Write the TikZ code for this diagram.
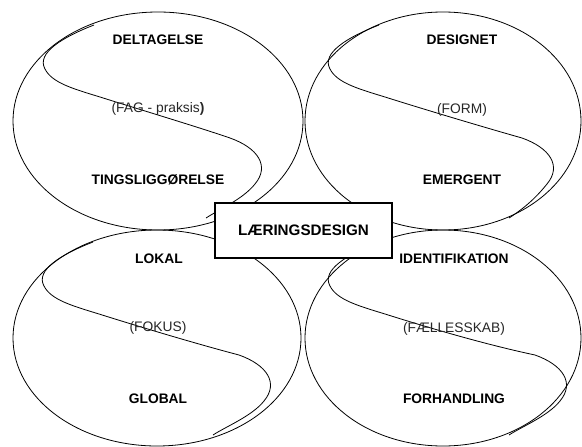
\documentclass[tikz,border=0pt]{standalone}
\usepackage{fontspec}
\setmainfont{Liberation Sans}
\tikzset{
  oval/.style={draw=black, line width=0.8pt},
  sline/.style={draw=black, line width=0.8pt},
  lab/.style={font=\fontsize{13.8}{16}\selectfont\bfseries, inner sep=0pt},
  mid/.style={font=\fontsize{13.8}{16}\selectfont, text=black!85, inner sep=0pt},
  centerbox/.style={draw=black, fill=white, line width=1.1pt, minimum width=177pt, minimum height=55pt,
    font=\fontsize{15.2}{17}\selectfont\bfseries, inner sep=0pt}
}
\newcommand\Scurve[3]{%
  \begin{scope}[shift={(#1)}]
    \draw[sline] (-64,-96) .. controls (-95,-84) and (-122,-68) .. (-113,-52)
      .. controls (-106,-38) and (-84,-32) .. (-58,-24)
      .. controls (-20,-12) and (40,6) .. ({72+#2},17)
      .. controls ({100+#2},27) and ({112+#2},45) .. ({97+#2},63)
      .. controls ({85+#2},78) and ({62+#3},88) .. ({48+#3},97);
  \end{scope}}
\begin{document}
\begin{tikzpicture}[x=1pt, y=-1pt]
\useasboundingbox (0,0) rectangle (582,447);
% ellipses
\draw[oval] (158,121) ellipse [x radius=145pt, y radius=109pt];
\draw[oval] (443,121) ellipse [x radius=138pt, y radius=109pt];
\draw[oval] (157,338) ellipse [x radius=144pt, y radius=108pt];
\draw[oval] (443,338) ellipse [x radius=138pt, y radius=108pt];
% S curves
\Scurve{158,121}{0}{0}
\Scurve{443,121}{7}{18}
\Scurve{157,338}{10}{8}
\Scurve{443,338}{20}{18}
% labels
\node[lab] (deltagelse) at (158,40) {DELTAGELSE};
\node[mid] (fag) at (158,109) {(FAG - praksis\textbf{)}};
\node[lab] (tings) at (158,180) {TINGSLIGGØRELSE};
\node[lab] (designet) at (462,40) {DESIGNET};
\node[mid] (form) at (462,110) {(FORM)};
\node[lab] (emergent) at (462,180) {EMERGENT};
\node[lab] (lokal) at (159,259) {LOKAL};
\node[mid] (fokus) at (158,328) {(FOKUS)};
\node[lab] (global) at (158,399) {GLOBAL};
\node[lab] (ident) at (454,259) {IDENTIFIKATION};
\node[mid] (faelles) at (454,329) {(FÆLLESSKAB)};
\node[lab] (forh) at (454,399) {FORHANDLING};
% centre box
\node[centerbox] (design) at (303.5,230.5) {LÆRINGSDESIGN};
\end{tikzpicture}
\end{document}
